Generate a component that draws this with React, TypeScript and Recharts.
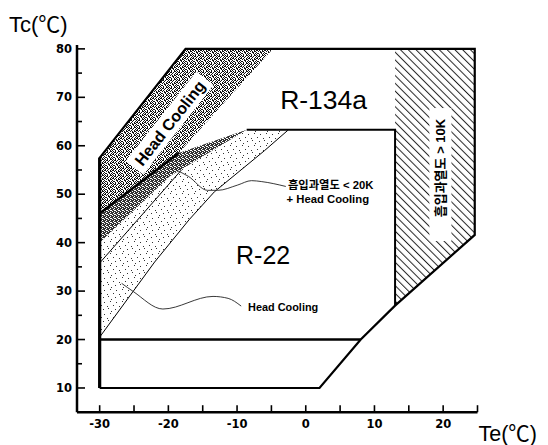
import React from 'react';
import { ComposedChart, XAxis, YAxis, Line, Area, Scatter, Label } from 'recharts';

// ---- axis ticks ----
const teTicks = [-30, -25, -20, -15, -10, -5, 0, 5, 10, 15, 20, 25];
const teLabeled = [-30, -20, -10, 0, 10, 20];
const tcTicks = [10, 15, 20, 25, 30, 35, 40, 45, 50, 55, 60, 65, 70, 75, 80];
const tcLabeled = [10, 20, 30, 40, 50, 60, 70, 80];

// ---- outlines (Te, Tc) ----
const envelopeTe = [-30, 2, 8, 13, 24.6, 24.6, -17.5, -30];
const envelopeTc = [10, 10, 20, 27, 41.6, 80, 80, 57.5];
const leftEdgeTe = [-30, -30];
const leftEdgeTc = [10, 57.5];
const r22FloorTe = [-30, 8];
const r22FloorTc = [20, 20];
const r22TopTe = [-8.6, 13, 13];
const r22TopTc = [63.3, 63.3, 27];
const headEdgeTe = [-30, -18.5];
const headEdgeTc = [46, 58.5];
const limitATe = [-30, -22, -17, -13.3, -6, -2.6];
const limitATc = [20.5, 36, 44.7, 50.5, 59, 63.2];
const limitBTe = [-30, -18.1];
const limitBTc = [35.8, 55];
const leader1Te = [-18.9, -17.1, -14.3, -12.8, -9.9, -7.9, -6.4, -2.9];
const leader1Tc = [55.0, 53.7, 50.8, 50.8, 51.9, 52.8, 52.6, 51.6];
const leader2Te = [-26.8, -25.1, -20.8, -13.5, -11.3, -9.4];
const leader2Tc = [31.6, 29.9, 26.3, 28.9, 28.5, 26.9];

// ---- filled zones (Te, low Tc, high Tc) ----
const headZoneTe = [-30, -18.5, -17.5, -4.8];
const headZoneLo = [46, 58.5, 60.07, 80];
const headZoneHi = [57.5, 78.2, 80, 80];
const darkZoneTe = [-30, -19.8, -18.5, -8.6];
const darkZoneLo = [40, 53.7, 54.8, 63.3];
const darkZoneHi = [46, 57.1, 58.5, 63.3];
const lightZoneTe = [-30, -22, -19.8, -17, -13.3, -8.6, -6, -2.6];
const lightZoneLo = [20.5, 36, 39.8, 44.7, 50.5, 56.0, 59, 63.2];
const lightZoneHi = [40, 50.7, 53.7, 56.1, 59.3, 63.3, 63.3, 63.3];
const hatchZoneTe = [13, 24.6];
const hatchZoneLo = [27, 41.6];
const hatchZoneHi = [80, 80];

// ---- annotations ----
const noteIds = ['r134a', 'r22', 'headBand', 'sh20a', 'sh20b', 'headLow', 'sh10'];
const noteText = ['R-134a', 'R-22', 'Head Cooling', '흡입과열도 < 20K', '+ Head Cooling', 'Head Cooling', '흡입과열도 > 10K'];
const noteTe = [2.6, -6.2, -19.8, -2.6, -2.8, -8.4, 19.6];
const noteTc = [69.5, 37.4, 64.7, 51.96, 49.1, 26.7, 55.4];

const pts = (te: number[], tc: number[]) => te.map((t, i) => ({ te: t, tc: tc[i] }));
const zone = (te: number[], lo: number[], hi: number[]) => te.map((t, i) => ({ te: t, r: [lo[i], hi[i]] }));
const notes = noteIds.map((id, i) => ({ id, text: noteText[i], te: noteTe[i], tc: noteTc[i] }));

const gridHead = ['X.XX.X..', '.X..X..X', 'XX.X..X.', '..X.X.XX', 'X...XX..', '.XX..X.X', 'X..X..X.', '.X.X..XX'];
const gridDark = ['XX.X', 'X.XX', 'XX..', '.XXX'];
const gridLight = ['............', '..X.........', '........X...', '............', '............', '.....X......', '...........X', '............', 'X...........', '.......X....', '............', '...X........'];

const Cells = ({ grid, color }: { grid: string[]; color: string }) => (
  <>
    {grid.flatMap((row, r) =>
      row.split('').map((c, i) => (c === 'X' ? <rect key={r + '-' + i} x={i} y={r} width={1} height={1} fill={color} /> : null))
    )}
  </>
);

const sans = 'Liberation Sans, Arial, Noto Sans CJK KR, sans-serif';
const tickFont = 'DejaVu Sans, sans-serif';

const YTick = (props: any) => {
  const { x, y, payload } = props;
  const v = payload.value;
  const major = tcLabeled.includes(v);
  return (
    <g>
      <line x1={x} x2={x + (major ? 8 : 5)} y1={y} y2={y} stroke="#000" strokeWidth={1.6} />
      {major && (
        <text x={x - 5} y={y} dy="0.36em" textAnchor="end" fontFamily={tickFont} fontWeight="bold" fontSize={11.5} fill="#000">
          {v}
        </text>
      )}
    </g>
  );
};

const XTick = (props: any) => {
  const { x, y, payload } = props;
  const v = payload.value;
  const major = teLabeled.includes(v);
  return (
    <g>
      <line x1={x} x2={x} y1={y} y2={y - 7} stroke="#000" strokeWidth={1.6} />
      {major && (
        <text x={x} y={y + 16} textAnchor="middle" fontFamily={tickFont} fontWeight="bold" fontSize={11.5} fill="#000">
          {v}
        </text>
      )}
    </g>
  );
};

const NoteShape = (props: any) => {
  const { cx, cy, payload } = props;
  if (cx == null || cy == null) return null;
  const id = payload.id;
  const t = payload.text;
  if (id === 'r134a')
    return <text x={cx} y={cy} dy="0.36em" textAnchor="middle" fontFamily={sans} fontSize={26.5} fill="#000">{t}</text>;
  if (id === 'r22')
    return <text x={cx} y={cy} dy="0.36em" textAnchor="middle" fontFamily={sans} fontSize={25} fill="#000">{t}</text>;
  if (id === 'headBand')
    return (
      <g transform={`translate(${cx},${cy}) rotate(-51.8)`}>
        <rect x={-57} y={-11} width={114} height={22} fill="#fff" />
        <text x={0} y={0} dy="0.36em" textAnchor="middle" fontFamily={sans} fontWeight="bold" fontSize={16} fill="#000">{t}</text>
      </g>
    );
  if (id === 'sh10')
    return (
      <g>
        <rect x={cx - 11} y={cy - 60} width={22} height={133} fill="#fff" />
        <g transform={`translate(${cx},${cy}) rotate(-90)`}>
          <text x={0} y={0} dy="0.36em" textAnchor="middle" fontFamily={sans} fontWeight="bold" fontSize={13} fill="#000">{t}</text>
        </g>
      </g>
    );
  const fs = id === 'headLow' ? 10.9 : 11.3;
  return <text x={cx} y={cy} dy="0.36em" textAnchor="start" fontFamily={sans} fontWeight="bold" fontSize={fs} fill="#000">{t}</text>;
};

const lineProps = {
  type: 'linear' as const,
  dataKey: 'tc',
  dot: false,
  activeDot: false,
  isAnimationActive: false,
  stroke: '#000',
};

const areaProps = {
  type: 'linear' as const,
  dataKey: 'r',
  stroke: 'none',
  fillOpacity: 1,
  dot: false,
  activeDot: false,
  isAnimationActive: false,
};

export default function App() {
  return (
    <div style={{ position: 'absolute', left: 0, top: 0, width: 548, height: 445, background: '#fff' }}>
      <ComposedChart width={548} height={445} margin={{ top: 45, right: 70.5, bottom: 7.8, left: 27 }}>
        <defs>
          <pattern id="pHead" patternUnits="userSpaceOnUse" width={8} height={8}>
            <rect width={8} height={8} fill="#fff" />
            <Cells grid={gridHead} color="#111" />
          </pattern>
          <pattern id="pDark" patternUnits="userSpaceOnUse" width={4} height={4}>
            <rect width={4} height={4} fill="#fff" />
            <Cells grid={gridDark} color="#333" />
          </pattern>
          <pattern id="pLight" patternUnits="userSpaceOnUse" width={12} height={12}>
            <rect width={12} height={12} fill="#fff" />
            <Cells grid={gridLight} color="#333" />
          </pattern>
          <pattern id="pHatch" patternUnits="userSpaceOnUse" width={5.5} height={5.5} patternTransform="rotate(-45)">
            <rect width={5.5} height={5.5} fill="#fff" />
            <line x1={0.5} y1={0} x2={0.5} y2={5.5} stroke="#222" strokeWidth={1} />
          </pattern>
        </defs>
        <XAxis
          type="number"
          dataKey="te"
          domain={[-33.3, 25]}
          allowDataOverflow
          ticks={teTicks}
          interval={0}
          height={25}
          tickSize={0}
          tickMargin={0}
          tickLine={false}
          axisLine={{ stroke: '#000', strokeWidth: 2.5 }}
          tick={<XTick />}
        >
          <Label
            content={(p: any) => {
              const vb = p.viewBox || {};
              return (
                <text x={vb.x + vb.width + 1} y={vb.y + 29} fontFamily={sans} fontSize={21.5} fill="#000">
                  Te(℃)
                </text>
              );
            }}
          />
        </XAxis>
        <YAxis
          type="number"
          dataKey="tc"
          domain={[5, 80.8]}
          allowDataOverflow
          ticks={tcTicks}
          interval={0}
          width={50}
          tickSize={0}
          tickMargin={0}
          tickLine={false}
          axisLine={{ stroke: '#000', strokeWidth: 2.5 }}
          tick={<YTick />}
        >
          <Label
            content={(p: any) => {
              const vb = p.viewBox || {};
              return (
                <text x={vb.x - 18} y={vb.y - 13.3} fontFamily={sans} fontSize={22} fill="#000">
                  Tc(℃)
                </text>
              );
            }}
          />
        </YAxis>

        <Area {...areaProps} data={zone(hatchZoneTe, hatchZoneLo, hatchZoneHi)} fill="url(#pHatch)" />
        <Area {...areaProps} data={zone(lightZoneTe, lightZoneLo, lightZoneHi)} fill="url(#pLight)" />
        <Area {...areaProps} data={zone(headZoneTe, headZoneLo, headZoneHi)} fill="url(#pHead)" />
        <Area {...areaProps} data={zone(darkZoneTe, darkZoneLo, darkZoneHi)} fill="url(#pDark)" />

        <Line {...lineProps} data={pts(envelopeTe.concat([envelopeTe[0]]), envelopeTc.concat([envelopeTc[0]]))} strokeWidth={2.2} />
        <Line {...lineProps} data={pts(leftEdgeTe, leftEdgeTc)} strokeWidth={3.2} />
        <Line {...lineProps} data={pts(r22FloorTe, r22FloorTc)} strokeWidth={2.5} />
        <Line {...lineProps} data={pts(r22TopTe, r22TopTc)} strokeWidth={2} />
        <Line {...lineProps} data={pts(headEdgeTe, headEdgeTc)} strokeWidth={2.6} />
        <Line {...lineProps} data={pts(limitATe, limitATc)} strokeWidth={1} />
        <Line {...lineProps} data={pts(limitBTe, limitBTc)} strokeWidth={1} />
        <Line {...lineProps} type="monotone" data={pts(leader1Te, leader1Tc)} strokeWidth={0.9} stroke="#222" />
        <Line {...lineProps} type="monotone" data={pts(leader2Te, leader2Tc)} strokeWidth={0.9} stroke="#222" />

        <Scatter data={notes} dataKey="tc" isAnimationActive={false} shape={NoteShape} />
      </ComposedChart>
    </div>
  );
}
